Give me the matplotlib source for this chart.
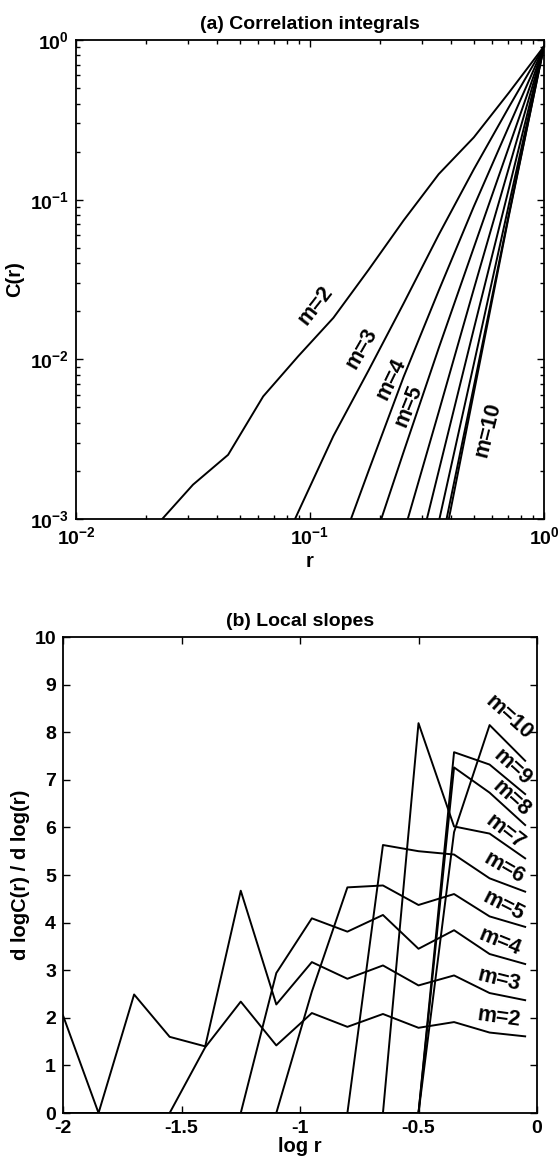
import numpy as np
import matplotlib
matplotlib.use("Agg")
import matplotlib.pyplot as plt
from matplotlib.ticker import LogLocator, FixedLocator, NullFormatter

plt.rcParams['font.family'] = ['Liberation Sans', 'DejaVu Sans']
plt.rcParams['font.weight'] = 'bold'
plt.rcParams['axes.labelweight'] = 'bold'
plt.rcParams['axes.titleweight'] = 'bold'
plt.rcParams['mathtext.fontset'] = 'custom'
plt.rcParams['mathtext.rm'] = 'Liberation Sans:bold'
plt.rcParams['mathtext.it'] = 'Liberation Sans:bold'
plt.rcParams['mathtext.bf'] = 'Liberation Sans:bold'
plt.rcParams['mathtext.default'] = 'regular'
plt.rcParams['axes.unicode_minus'] = False

nan = np.nan

# ---- (a) correlation integrals: log10 r grid and log10 C(r) per embedding dimension
log_r = [-1.95, -1.8, -1.65, -1.5, -1.35, -1.2, -1.05, -0.9, -0.75, -0.6, -0.45, -0.3, -0.15, 0.0]
logC_m2 = [nan, nan, -3.03, -2.785, -2.598, -2.232, -1.98, -1.74, -1.44, -1.13, -0.84, -0.61, -0.33, -0.04]
logC_m3 = [nan, nan, nan, nan, nan, -3.435, -2.955, -2.48, -2.07, -1.65, -1.22, -0.81, -0.42, -0.04]
logC_m4 = [nan, nan, nan, nan, nan, nan, nan, -3.30, -2.70, -2.11, -1.57, -1.043, -0.54, -0.04]
logC_m5 = [nan, nan, nan, nan, nan, nan, nan, nan, -3.24, -2.58, -1.93, -1.30, -0.67, -0.04]
logC_m6 = [nan, nan, nan, nan, nan, nan, nan, nan, nan, -3.09, -2.33, -1.56, -0.80, -0.04]
logC_m7 = [nan, nan, nan, nan, nan, nan, nan, nan, nan, -3.59, -2.70, -1.81, -0.93, -0.04]
logC_m8 = [nan, nan, nan, nan, nan, nan, nan, nan, nan, nan, -3.02, -2.03, -1.03, -0.04]
logC_m9 = [nan, nan, nan, nan, nan, nan, nan, nan, nan, nan, -3.24, -2.17, -1.09, -0.04]
logC_m10 = [nan, nan, nan, nan, nan, nan, nan, nan, nan, nan, -3.32, -2.21, -1.10, -0.04]
corr_curves = [logC_m2, logC_m3, logC_m4, logC_m5, logC_m6, logC_m7, logC_m8, logC_m9, logC_m10]

# curve labels in panel (a): text, log10 r, log10 C, angle
labels_a = [("m=2", -0.975, -1.66, 52),
            ("m=3", -0.779, -1.93, 60),
            ("m=4", -0.655, -2.12, 64),
            ("m=5", -0.578, -2.29, 68),
            ("m=10", -0.238, -2.44, 76)]

# ---- (b) local slopes d logC / d log r
log_r_b = [-2.0, -1.85, -1.7, -1.55, -1.4, -1.25, -1.1, -0.95, -0.8, -0.65, -0.5, -0.35, -0.2, -0.05]
slope_m2 = [0, 0, 0, 0, 1.38, 2.34, 1.42, 2.10, 1.81, 2.08, 1.79, 1.91, 1.69, 1.61]
slope_m3 = [2.05, 0, 2.49, 1.60, 1.40, 4.67, 2.28, 3.17, 2.82, 3.10, 2.68, 2.89, 2.52, 2.37]
slope_m4 = [0, 0, 0, 0, 0, 0, 2.94, 4.09, 3.81, 4.16, 3.45, 3.84, 3.34, 3.13]
slope_m5 = [0, 0, 0, 0, 0, 0, 0, 2.55, 4.74, 4.78, 4.37, 4.60, 4.13, 3.91]
slope_m6 = [0, 0, 0, 0, 0, 0, 0, 0, 0, 5.63, 5.50, 5.43, 4.93, 4.65]
slope_m7 = [0, 0, 0, 0, 0, 0, 0, 0, 0, 0, 8.19, 6.02, 5.87, 5.35]
slope_m8 = [0, 0, 0, 0, 0, 0, 0, 0, 0, 0, 0, 7.26, 6.73, 6.05]
slope_m9 = [0, 0, 0, 0, 0, 0, 0, 0, 0, 0, 0, 7.58, 7.32, 6.70]
slope_m10 = [0, 0, 0, 0, 0, 0, 0, 0, 0, 0, 0, 5.90, 8.15, 7.40]
slope_curves = [slope_m2, slope_m3, slope_m4, slope_m5, slope_m6, slope_m7, slope_m8, slope_m9, slope_m10]

labels_b = [("m=2", -0.16, 2.00, -8),
            ("m=3", -0.16, 2.80, -14),
            ("m=4", -0.155, 3.60, -22),
            ("m=5", -0.14, 4.35, -27),
            ("m=6", -0.14, 5.15, -30),
            ("m=7", -0.135, 5.90, -38),
            ("m=8", -0.11, 6.60, -42),
            ("m=9", -0.105, 7.25, -42),
            ("m=10", -0.12, 8.30, -42)]

LW = 1.4
TICK_FS = 14
LABEL_FS = 15.5
AXLABEL_FS = 14.5
TITLE_FS = 14

fig = plt.figure(figsize=(5.59, 11.65), dpi=100)

# ---------------- panel (a)
ax1 = fig.add_axes([76 / 559, 1 - 519 / 1165, 468 / 559, 479 / 1165])
r_vals = 10.0 ** np.array(log_r)
for curve in corr_curves:
    ax1.plot(r_vals, 10.0 ** np.array(curve), color='black', lw=LW)
ax1.set_xscale('log')
ax1.set_yscale('log')
ax1.set_xlim(1e-2, 1e0)
ax1.set_ylim(1e-3, 1e0)
ax1.xaxis.set_major_locator(LogLocator(base=10, numticks=10))
ax1.yaxis.set_major_locator(LogLocator(base=10, numticks=10))
ax1.xaxis.set_minor_locator(LogLocator(base=10, subs=np.arange(2, 10), numticks=20))
ax1.yaxis.set_minor_locator(LogLocator(base=10, subs=np.arange(2, 10), numticks=20))
ax1.xaxis.set_minor_formatter(NullFormatter())
ax1.yaxis.set_minor_formatter(NullFormatter())
for txt, lx, ly, ang in labels_a:
    ax1.text(10 ** lx, 10 ** ly, txt, rotation=ang, ha='center', va='center',
             fontsize=LABEL_FS, rotation_mode='anchor')
ax1.set_title("(a) Correlation integrals", fontsize=TITLE_FS, pad=8)
ax1.set_xlabel("r", fontsize=AXLABEL_FS, labelpad=3)
ax1.set_ylabel("C(r)", fontsize=AXLABEL_FS, labelpad=4)

# ---------------- panel (b)
ax2 = fig.add_axes([63 / 559, 1 - 1113 / 1165, 474 / 559, 476 / 1165])
for curve in slope_curves:
    ax2.plot(log_r_b, curve, color='black', lw=LW)
ax2.set_xlim(-2, 0)
ax2.set_ylim(0, 10)
ax2.xaxis.set_major_locator(FixedLocator([-2, -1.5, -1, -0.5, 0]))
ax2.set_xticklabels(["-2", "-1.5", "-1", "-0.5", "0"])
ax2.yaxis.set_major_locator(FixedLocator(list(range(0, 11))))
for txt, lx, ly, ang in labels_b:
    ax2.text(lx, ly, txt, rotation=ang, ha='center', va='center',
             fontsize=LABEL_FS, rotation_mode='anchor')
ax2.set_title("(b) Local slopes", fontsize=TITLE_FS, pad=8)
ax2.set_xlabel("log r", fontsize=AXLABEL_FS, labelpad=0)
ax2.set_ylabel("d logC(r) / d log(r)", fontsize=AXLABEL_FS, labelpad=3)

for ax in (ax1, ax2):
    ax.tick_params(which='both', direction='in', top=True, right=True,
                   labelsize=TICK_FS, width=1.0)
    ax.tick_params(which='major', length=5, pad=5)
    ax.tick_params(which='minor', length=3)
    for s in ax.spines.values():
        s.set_linewidth(1.3)

fig.savefig("out.png", dpi=100, facecolor='white')
